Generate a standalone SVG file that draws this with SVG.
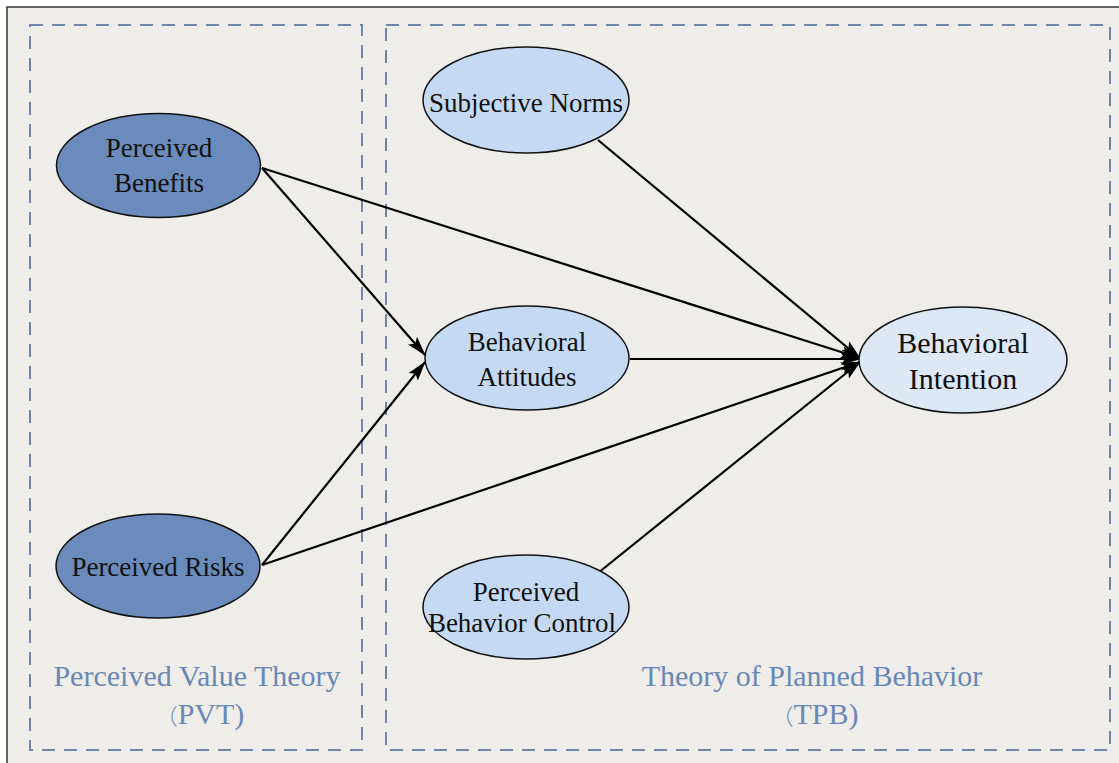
<svg xmlns="http://www.w3.org/2000/svg" width="1119" height="763" viewBox="0 0 1119 763">
<defs>
<style>
.frame{fill:#efede9;stroke:#333;stroke-width:1.5}
.grp{fill:none;stroke:#6f86a8;stroke-width:2;stroke-dasharray:13,9}
.dark{fill:#6a8bbb;stroke:#111;stroke-width:1.5}
.light{fill:#c5daf2;stroke:#111;stroke-width:1.5}
.lighter{fill:#dde8f7;stroke:#111;stroke-width:1.5}
.t{font-family:"Liberation Serif","Noto Sans CJK SC",serif;font-size:27px;fill:#111;text-anchor:middle}
.tb{font-family:"Liberation Serif","Noto Sans CJK SC",serif;font-size:30px;fill:#111;text-anchor:middle}
.lbl{font-family:"Liberation Serif","Noto Sans CJK SC",serif;font-size:30px;fill:#6a88b5;text-anchor:middle}
.cjk{font-family:"Noto Sans CJK SC",sans-serif;font-weight:300;font-size:22px}
.c{stroke:#000;stroke-width:2.2;fill:none;marker-end:url(#ah)}
</style>
<marker id="ah" viewBox="0 0 20 12" refX="19" refY="6" markerWidth="20" markerHeight="12" markerUnits="userSpaceOnUse" orient="auto">
<path d="M0,0 L20,6 L0,12 L4,6 Z" fill="#000"/>
</marker>
</defs>
<rect class="frame" x="7" y="7" width="1118" height="770"/>
<g id="pvt-group">
<rect class="grp" x="30" y="25" width="332" height="725"/>
<text class="lbl" x="197" y="686">Perceived Value Theory</text>
<text class="lbl" x="200" y="724"><tspan class="cjk">（</tspan>PVT)</text>
</g>
<g id="tpb-group">
<rect class="grp" x="386" y="25" width="724" height="725"/>
<text class="lbl" x="812" y="686">Theory of Planned Behavior</text>
<text class="lbl" x="815" y="724"><tspan class="cjk">（</tspan>TPB)</text>
</g>
<g id="connectors">
<line class="c" x1="262" y1="168" x2="425" y2="355"/>
<line class="c" x1="262" y1="168" x2="860" y2="358"/>
<line class="c" x1="262" y1="565" x2="425" y2="362"/>
<line class="c" x1="262" y1="565" x2="860" y2="362"/>
<line class="c" x1="598" y1="140" x2="860" y2="358"/>
<line class="c" x1="630" y1="359" x2="860" y2="359"/>
<line class="c" x1="598" y1="573" x2="860" y2="362"/>
</g>
<g id="perceived-benefits">
<ellipse class="dark" cx="158.5" cy="165.5" rx="102" ry="52"/>
<text class="t" x="159" y="157">Perceived</text>
<text class="t" x="159" y="192">Benefits</text>
</g>
<g id="perceived-risks">
<ellipse class="dark" cx="158" cy="566" rx="102" ry="52"/>
<text class="t" x="158" y="576">Perceived Risks</text>
</g>
<g id="subjective-norms">
<ellipse class="light" cx="526" cy="100" rx="103" ry="53"/>
<text class="t" x="526" y="112">Subjective Norms</text>
</g>
<g id="behavioral-attitudes">
<ellipse class="light" cx="527" cy="358" rx="102" ry="52"/>
<text class="t" x="527" y="351">Behavioral</text>
<text class="t" x="527" y="386">Attitudes</text>
</g>
<g id="perceived-behavior-control">
<ellipse class="light" cx="526" cy="607" rx="103" ry="52"/>
<text class="t" x="526" y="601">Perceived</text>
<text class="t" x="522" y="632">Behavior Control</text>
</g>
<g id="behavioral-intention">
<ellipse class="lighter" cx="963" cy="360" rx="104" ry="53"/>
<text class="tb" x="963" y="353">Behavioral</text>
<text class="tb" x="963" y="389">Intention</text>
</g>
</svg>
